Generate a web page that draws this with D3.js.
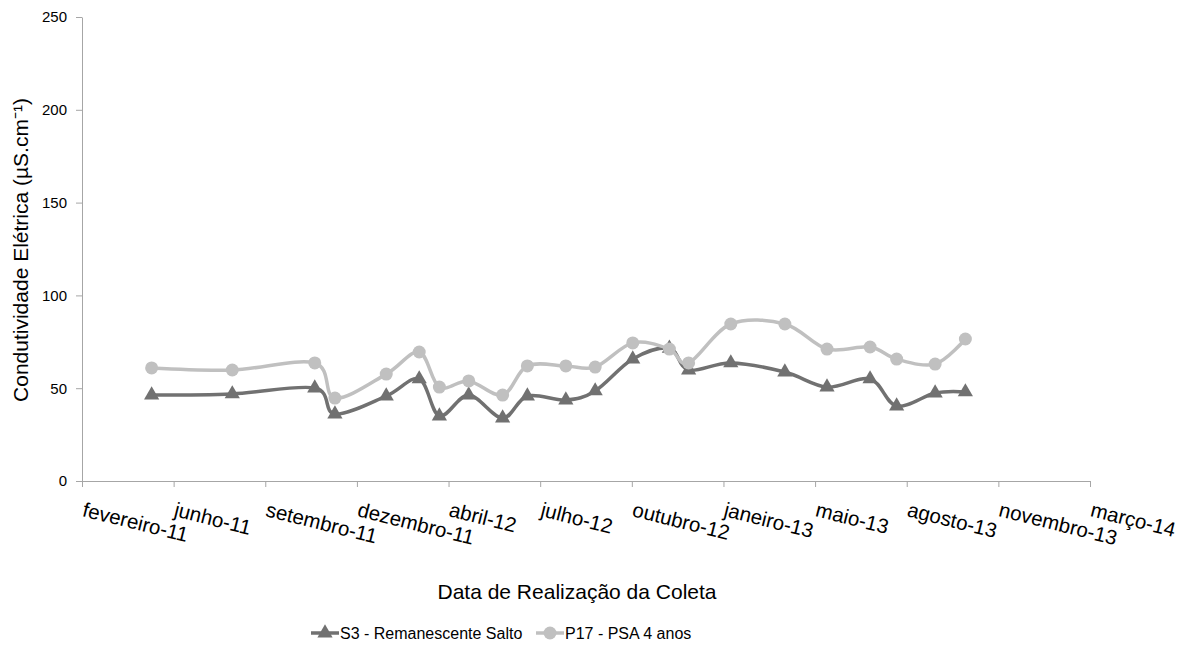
<!DOCTYPE html>
<html>
<head>
<meta charset="utf-8">
<script src="https://cdn.jsdelivr.net/npm/d3@7"></script>
<style>
  body { margin: 0; background: #fff; }
  svg { font-family: "Liberation Sans", Arial, sans-serif; }
</style>
</head>
<body>
<script>
// collection dates
const coletas = ['2011-05-13', '2011-08-09', '2011-11-07', '2011-11-29', '2012-01-24', '2012-02-29',
  '2012-03-22', '2012-04-23', '2012-05-30', '2012-06-26', '2012-08-07', '2012-09-08', '2012-10-19',
  '2012-11-28', '2012-12-19', '2013-02-03', '2013-04-03', '2013-05-19', '2013-07-05', '2013-08-03',
  '2013-09-14', '2013-10-17']

const s3Values = [46.3, 46.9, 50.1, 36.1, 45.8, 55.0, 35.0, 46.3, 33.9, 45.8, 43.6, 48.5, 65.7,
  71.5, 59.8, 63.6, 58.7, 50.6, 55.0, 40.4, 47.4, 48.0]
const p17Values = [60.9, 59.8, 63.6, 44.7, 57.6, 69.5, 50.6, 53.9, 46.3, 62.0, 62.0, 61.4, 74.4,
  71.1, 63.6, 84.6, 84.6, 71.1, 72.2, 65.7, 63.0, 76.5]

const tickDates = ['2011-02-26', '2011-06-06', '2011-09-14', '2011-12-23', '2012-04-01', '2012-07-10',
  '2012-10-18', '2013-01-26', '2013-05-06', '2013-08-14', '2013-11-22', '2014-03-02']
const tickLabels = ['fevereiro-11', 'junho-11', 'setembro-11', 'dezembro-11', 'abril-12', 'julho-12',
  'outubro-12', 'janeiro-13', 'maio-13', 'agosto-13', 'novembro-13', 'março-14']
const yTicks = [0, 50, 100, 150, 200, 250]

const seriesNames = ['S3 - Remanescente Salto', 'P17 - PSA 4 anos']

const parse = d3.utcParse('%Y-%m-%d')

function renderSvg() {
  const margin = { top: 17, left: 82, right: 99, bottom: 174 },
    width = 1189 - margin.left - margin.right,
    height = 655 - margin.top - margin.bottom

  const axisColor = '#a6a6a6'
  const colors = ['#717171', '#c0c0c0']

  const svg = d3.select('body')
    .append('svg')
    .attr('width', 1189)
    .attr('height', 655)

  const g = svg.append('g')
    .attr('transform', `translate(${margin.left}, ${margin.top})`)

  const ticks = tickDates.map(parse)
  const x = d3.scaleUtc()
    .domain([ticks[0], ticks[ticks.length - 1]])
    .range([0, width])

  const y = d3.scaleLinear()
    .domain([0, 250])
    .range([height, 0])

  // y axis
  const yAxis = g.append('g')
    .call(d3.axisLeft(y).tickValues(yTicks).tickSize(6).tickSizeOuter(0).tickPadding(9))
  yAxis.selectAll('line, path').attr('stroke', axisColor)
  yAxis.selectAll('text')
    .style('font-size', '15px')
    .attr('fill', '#000')

  // x axis
  const xAxis = g.append('g')
    .attr('transform', `translate(0, ${height})`)
    .call(d3.axisBottom(x).tickValues(ticks).tickSize(6).tickSizeOuter(0).tickFormat((d, i) => tickLabels[i]))
  xAxis.selectAll('line, path').attr('stroke', axisColor)
  xAxis.selectAll('text')
    .style('font-size', '20.5px')
    .attr('fill', '#000')
    .attr('text-anchor', 'start')
    .attr('dy', null)
    .attr('y', 0)
    .attr('transform', 'translate(-1, 35) rotate(14)')

  const data = [s3Values, p17Values].map(vals => vals.map((v, i) => ({ date: parse(coletas[i]), value: v })))

  const line = d3.line()
    .x(d => x(d.date))
    .y(d => y(d.value))
    .curve(d3.curveCatmullRom.alpha(0))

  const triangle = d3.symbol().type(d3.symbolTriangle).size(100)

  data.forEach((series, k) => {
    g.append('path')
      .datum(series)
      .attr('d', line)
      .attr('fill', 'none')
      .attr('stroke', colors[k])
      .attr('stroke-width', 3.5)

    if (k === 0) {
      g.append('g')
        .selectAll('path')
        .data(series)
        .enter()
        .append('path')
        .attr('d', triangle)
        .attr('transform', d => `translate(${x(d.date)}, ${y(d.value)})`)
        .attr('fill', colors[k])
    } else {
      g.append('g')
        .selectAll('circle')
        .data(series)
        .enter()
        .append('circle')
        .attr('cx', d => x(d.date))
        .attr('cy', d => y(d.value))
        .attr('r', 6.5)
        .attr('fill', colors[k])
    }
  })

  // axis titles
  svg.append('text')
    .attr('x', 577)
    .attr('y', 599)
    .attr('text-anchor', 'middle')
    .style('font-size', '21px')
    .text('Data de Realização da Coleta')

  svg.append('text')
    .attr('transform', 'translate(28, 250) rotate(-90)')
    .attr('text-anchor', 'middle')
    .style('font-size', '21px')
    .text('Condutividade Elétrica (µS.cm⁻¹)')

  // legend
  const legend = svg.append('g')
    .attr('transform', 'translate(311, 633)')

  const items = legend.selectAll('g')
    .data(seriesNames)
    .enter()
    .append('g')
    .attr('transform', (d, i) => `translate(${i * 225}, 0)`)

  items.append('line')
    .attr('x1', 0)
    .attr('x2', 28)
    .attr('stroke', (d, i) => colors[i])
    .attr('stroke-width', 3.5)

  items.filter((d, i) => i === 0)
    .append('path')
    .attr('d', triangle)
    .attr('transform', 'translate(14, 0)')
    .attr('fill', colors[0])

  items.filter((d, i) => i === 1)
    .append('circle')
    .attr('cx', 14)
    .attr('r', 6.5)
    .attr('fill', colors[1])

  items.append('text')
    .attr('x', 29)
    .attr('dy', '0.35em')
    .style('font-size', '16px')
    .text(d => d)
}

renderSvg()
</script>
</body>
</html>
